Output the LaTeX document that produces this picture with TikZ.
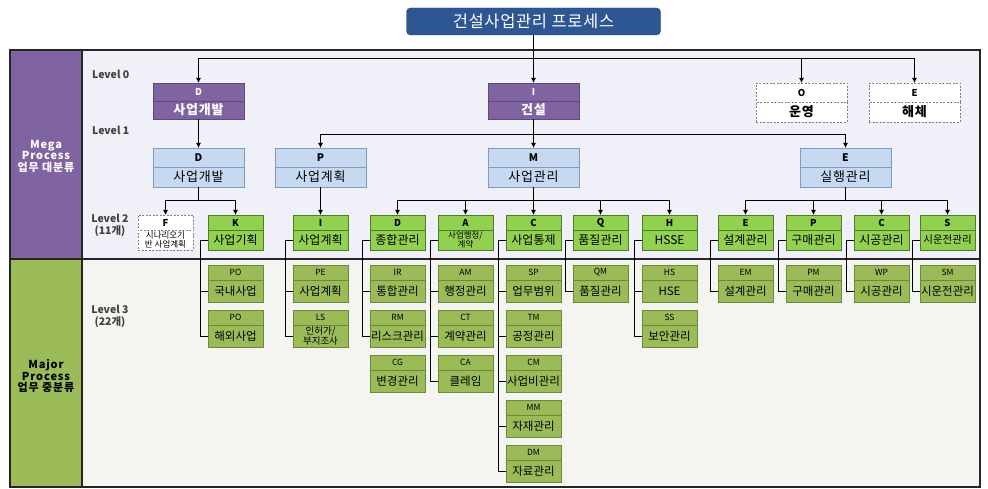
\documentclass[tikz,border=0pt]{standalone}
\usepackage{fontspec}
\setmainfont{Noto Sans CJK KR}
\usetikzlibrary{arrows.meta}
\definecolor{titleblue}{HTML}{2D5693}
\definecolor{purp}{HTML}{8064A2}
\definecolor{purpd}{HTML}{5E4A7E}
\definecolor{lblue}{HTML}{C6D9F1}
\definecolor{lblued}{HTML}{7F9CC0}
\definecolor{grn}{HTML}{92D050}
\definecolor{grnd}{HTML}{4E7D2A}
\definecolor{olv}{HTML}{9BBB59}
\definecolor{olvd}{HTML}{6A8A38}
\definecolor{topbg}{HTML}{F0F0F8}
\definecolor{botbg}{HTML}{F4F5F0}
\definecolor{lvtxt}{HTML}{3F3F3F}
\newcommand{\fs}[1]{\fontsize{#1}{#1}\selectfont}
\newcommand{\bx}[6]{%
  \node[#4h, anchor=north west] (#1h) at (#2,#3) {#5};
  \node[#4b, anchor=north] (#1b) at (#1h.south) {#6};}
\tikzset{
  base/.style={rectangle, inner sep=0pt, outer sep=0pt, line width=0.8pt, align=center},
  dsh/.style={draw=gray, dash pattern=on 2pt off 1.5pt, fill=white},
  l0h/.style={base, draw=purpd, fill=purp, text=white, minimum width=91pt, minimum height=18pt, font=\fs{9.5}\bfseries},
  l0b/.style={l0h, font=\fs{13}\bfseries\addfontfeature{LetterSpace=6}},
  d0h/.style={base, dsh, minimum width=91pt, minimum height=19pt, font=\fs{9.5}\bfseries},
  d0b/.style={d0h, minimum height=20pt, font=\fs{13}\bfseries\addfontfeature{LetterSpace=6}},
  l1h/.style={base, draw=lblued, fill=lblue, minimum width=91pt, minimum height=19pt, font=\fs{10.5}\bfseries},
  l1b/.style={l1h, minimum height=20pt, font=\fs{13}\addfontfeature{LetterSpace=6}},
  l2h/.style={base, draw=grnd, fill=grn, minimum width=55pt, minimum height=15pt, font=\fs{9.5}\bfseries},
  l2b/.style={l2h, minimum height=20pt, font=\fs{12}},
  f2h/.style={base, dsh, minimum width=55pt, minimum height=15pt, font=\fs{9.5}\bfseries},
  f2b/.style={f2h, minimum height=20pt, font=\fontsize{8.5}{8.5}\selectfont},
  l3h/.style={base, draw=olvd, fill=olv, minimum width=55pt, minimum height=15pt, font=\fs{8.5}},
  l3b/.style={l3h, minimum height=22pt, font=\fs{11.5}},
  conn/.style={draw=black, line width=1pt},
  arr/.style={conn, -{Latex[length=5pt,width=5pt]}},
  lvl/.style={text=lvtxt, font=\fontsize{10.5}{12}\selectfont\bfseries, align=center, inner sep=0pt},
  side/.style={font=\fontsize{11}{11.5}\selectfont\bfseries\addfontfeature{LetterSpace=8}, align=center, inner sep=0pt},
}
\begin{document}
\begin{tikzpicture}[x=1pt, y=-1pt]
\useasboundingbox (0,0) rectangle (988,489);
\fill[white] (0,0) rectangle (988,489);
% frame and backgrounds
\fill[topbg] (82,50) rectangle (980,259);
\fill[botbg] (82,259) rectangle (980,487);
\fill[purp] (10,50) rectangle (82,259);
\fill[olv] (10,259) rectangle (82,487);
\draw[line width=1.2pt, draw=black!85] (10,50) rectangle (980,487);
\draw[line width=1.2pt, draw=black!85] (82,50) -- (82,487);
\draw[line width=1.2pt, draw=black!85] (10,259) -- (980,259);
% sidebar labels
\node[side, text=white] (mega) at (46,156) {Mega\\Process\\업무 대분류};
\node[side, text=black] (major) at (46,376) {Major\\Process\\업무 중분류};
% level labels
\node[lvl, anchor=west] (lv0) at (92,74) {Level 0};
\node[lvl, anchor=west] (lv1) at (92,130) {Level 1};
\node[lvl] (lv2) at (110,225) {Level 2\\(11개)};
\node[lvl] (lv3) at (110,316) {Level 3\\(22개)};
% title
\node[rectangle, rounded corners=4pt, fill=titleblue, draw=titleblue!80!black, minimum width=254pt, minimum height=27pt, text=white, font=\fs{16.5}\addfontfeature{LetterSpace=4}, inner sep=0pt] (title) at (533.5,21.5) {건설사업관리 프로세스};
% level 0
\bx{D0}{153}{83}{l0}{D}{사업개발}
\bx{I0}{488}{83}{l0}{I}{건설}
\bx{O0}{756}{83}{d0}{O}{운영}
\bx{E0}{869}{83}{d0}{E}{해체}
% level 1
\bx{D1}{153}{148}{l1}{D}{사업개발}
\bx{P1}{275}{148}{l1}{P}{사업계획}
\bx{M1}{488}{148}{l1}{M}{사업관리}
\bx{E1}{800}{148}{l1}{E}{실행관리}
% level 2
\bx{F2}{138}{215}{f2}{F}{시나리오기\\반 사업계획}
\bx{K2}{208}{215}{l2}{K}{사업기획}
\bx{I2}{293}{215}{l2}{I}{사업계획}
\bx{D2}{370}{215}{l2}{D}{종합관리}
\node[l2h, anchor=north west] (A2h) at (438,215) {A};
\node[l2b, anchor=north, font=\fontsize{8.5}{8.5}\selectfont] (A2b) at (A2h.south) {사업행정/\\계약};
\bx{C2}{506}{215}{l2}{C}{사업통제}
\bx{Q2}{573}{215}{l2}{Q}{품질관리}
\bx{H2}{642}{215}{l2}{H}{HSSE}
\bx{E2}{718}{215}{l2}{E}{설계관리}
\bx{P2}{786}{215}{l2}{P}{구매관리}
\bx{CC2}{854}{215}{l2}{C}{시공관리}
\node[l2h, anchor=north west] (S2h) at (920,215) {S};
\node[l2b, anchor=north, font=\fs{10.5}] (S2b) at (S2h.south) {시운전관리};
% level 3
\bx{PO1}{208}{265}{l3}{PO}{국내사업}
\bx{PO2}{208}{310}{l3}{PO}{해외사업}
\bx{PE}{293}{265}{l3}{PE}{사업계획}
\node[l3h, anchor=north west] (LSh) at (293,310) {LS};
\node[l3b, anchor=north, font=\fontsize{9.5}{9.5}\selectfont] (LSb) at (LSh.south) {인허가/\\부지조사};
\bx{IR}{370}{265}{l3}{IR}{통합관리}
\bx{RM}{370}{310}{l3}{RM}{리스크관리}
\bx{CG}{370}{355}{l3}{CG}{변경관리}
\bx{AM}{438}{265}{l3}{AM}{행정관리}
\bx{CT}{438}{310}{l3}{CT}{계약관리}
\bx{CA}{438}{355}{l3}{CA}{클레임}
\bx{SP}{506}{265}{l3}{SP}{업무범위}
\bx{TM}{506}{310}{l3}{TM}{공정관리}
\bx{CM}{506}{355}{l3}{CM}{사업비관리}
\bx{MM}{506}{400}{l3}{MM}{자재관리}
\bx{DM}{506}{445}{l3}{DM}{자료관리}
\bx{QM}{573}{265}{l3}{QM}{품질관리}
\bx{HS}{642}{265}{l3}{HS}{HSE}
\bx{SS}{642}{310}{l3}{SS}{보안관리}
\bx{EM}{718}{265}{l3}{EM}{설계관리}
\bx{PM}{786}{265}{l3}{PM}{구매관리}
\bx{WP}{854}{265}{l3}{WP}{시공관리}
\bx{SM}{920}{265}{l3}{SM}{시운전관리}
% connectors: title -> level 0
\coordinate (b0) at (533.5,59);
\draw[arr] (title.south) -- (I0h.north);
\draw[arr] (b0) -| (D0h.north);
\draw[arr] (b0) -| (O0h.north);
\draw[arr] (b0) -| (E0h.north);
% level 0 -> 1
\coordinate (b1) at (533.5,135);
\draw[arr] (D0b.south) -- (D1h.north);
\draw[arr] (I0b.south) -- (M1h.north);
\draw[arr] (b1) -| (P1h.north);
\draw[arr] (b1) -| (E1h.north);
% level 1 -> 2
\coordinate (b2a) at (198.5,201);
\draw[conn] (D1b.south) -- (b2a);
\draw[arr] (b2a) -| (F2h.north);
\draw[arr] (b2a) -| (K2h.north);
\draw[arr] (P1b.south) -- (I2h.north);
\coordinate (b2b) at (533.5,201);
\draw[arr] (M1b.south) -- (C2h.north);
\draw[arr] (b2b) -| (D2h.north);
\draw[arr] (b2b) -| (A2h.north);
\draw[arr] (b2b) -| (Q2h.north);
\draw[arr] (b2b) -| (H2h.north);
\coordinate (b2c) at (845.5,201);
\draw[conn] (E1b.south) -- (b2c);
\draw[arr] (b2c) -| (E2h.north);
\draw[arr] (b2c) -| (P2h.north);
\draw[arr] (b2c) -| (CC2h.north);
\draw[arr] (b2c) -| (S2h.north);
% level 2 -> 3 elbows
\foreach \p/\c in {K2/PO1, K2/PO2, I2/PE, I2/LS, D2/IR, D2/RM, A2/AM, A2/CT, A2/CA,
  C2/SP, C2/TM, C2/CM, C2/MM, C2/DM, Q2/QM, H2/HS, H2/SS, E2/EM, P2/PM, CC2/WP, S2/SM}
  \draw[line width=0.9pt] (\p b.west) -- ++(-8,0) |- (\c b.west);
\end{tikzpicture}
\end{document}
